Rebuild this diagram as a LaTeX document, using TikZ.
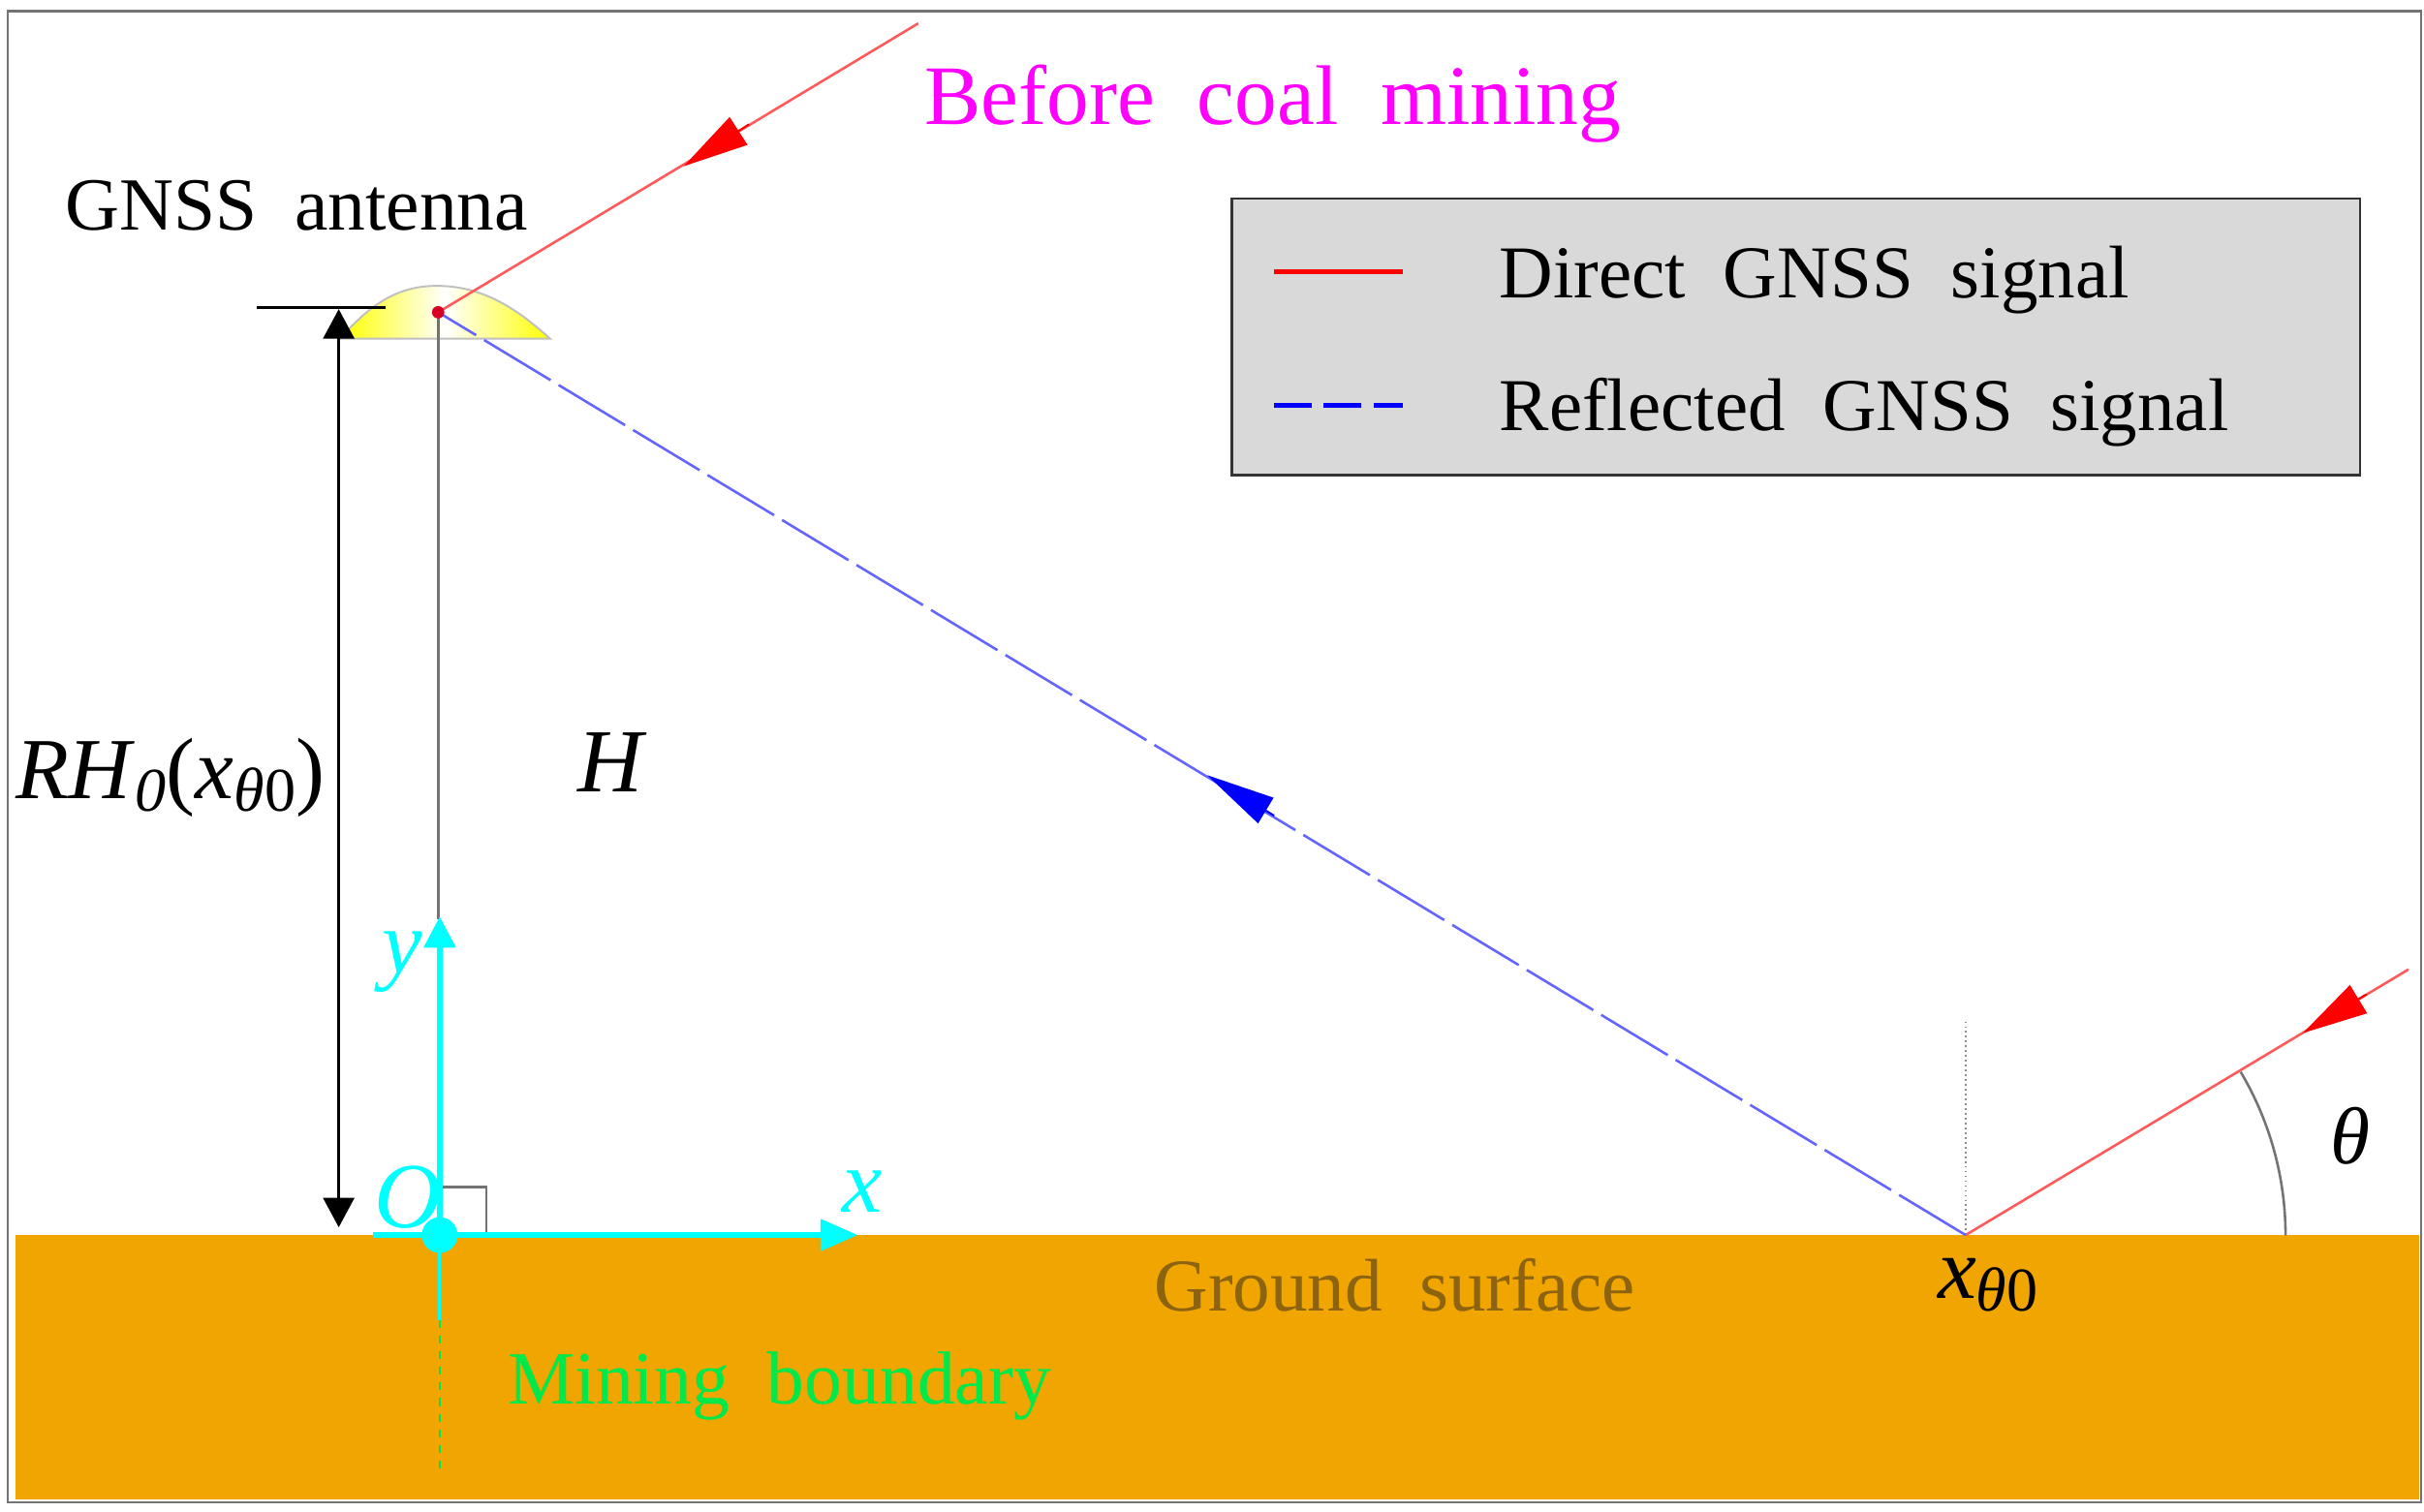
\documentclass[tikz,border=0pt]{standalone}
\usepackage{fontspec}
\setmainfont[WordSpace=2]{Liberation Serif}
\usetikzlibrary{arrows.meta}
\newcommand{\sz}[1]{\fontsize{#1}{#1}\selectfont}
\definecolor{ground}{HTML}{F0A500}
\definecolor{groundtext}{HTML}{8C6410}
\definecolor{minegreen}{HTML}{00E84A}
\definecolor{legendbg}{HTML}{D9D9D9}
\definecolor{purecyan}{RGB}{0,255,255}
\definecolor{puremagenta}{RGB}{255,0,255}
\definecolor{purered}{RGB}{255,0,0}
\definecolor{pureblue}{RGB}{0,0,255}
\definecolor{softred}{RGB}{255,90,90}
\definecolor{softblue}{RGB}{100,100,255}
\definecolor{pureyellow}{RGB}{255,255,0}
\tikzset{
  x=1pt,y=-1pt,
  lbl/.style={anchor=base west,inner sep=0pt,outer sep=0pt},
  direct/.style={draw=softred,line width=1.6pt},
  reflected/.style={draw=softblue,line width=1.6pt,dash pattern=on 50pt off 6pt},
  redhead/.style={draw=purered,-{Triangle[length=42pt,width=21pt,fill=purered,color=purered]},line width=1.2pt},
  bluehead/.style={draw=pureblue,-{Triangle[length=44pt,width=19pt,fill=pureblue,color=pureblue]},line width=1.2pt},
  axis/.style={draw=purecyan,color=purecyan,line width=3.6pt},
  helper/.style={draw=black!55,line width=1.6pt},
}
\begin{document}
\begin{tikzpicture}
\useasboundingbox (0,0) rectangle (1560,972.7);
\fill[white] (0,0) rectangle (1560,972.7);
% frame and ground
\fill[ground] (10,795) rectangle (1557,965);
\draw[black!55,line width=1.6pt] (5,7) rectangle (1558,967);
% points
\coordinate (ant) at (282,201);
\coordinate (refl) at (1265,795);
\coordinate (origin) at (283,795);
\coordinate (skyA) at (591,15);
\coordinate (skyB) at (1550,624);
% antenna
\shade[left color=pureyellow,right color=pureyellow,middle color=white]
  (219,218) .. controls (238,196) and (256,184) .. (281,184) .. controls (308,184) and (330,196) .. (354,218) -- cycle;
\draw[black!25,line width=1.2pt] (219,218) .. controls (238,196) and (256,184) .. (281,184) .. controls (308,184) and (330,196) .. (354,218) -- cycle;
% vertical H
\draw[helper] (ant) -- (282,592);
% right angle
\draw[helper] (283,764) -- (313,764) -- (313,795);
% dotted normal
\draw[black!45,line width=1.1pt,dotted] (refl) -- (1265,657);
% arc
\draw[helper] (1442,690) arc[start angle=-30.7,end angle=0,radius=206];
% signals
\draw[direct] (skyA) -- (ant);
\draw[direct] (skyB) -- (refl);
\draw[reflected] (refl) -- (ant);
\coordinate (ra1) at (482,80); \coordinate (rt1) at (440,107);
\coordinate (ra2) at (1523,640); \coordinate (rt2) at (1482,665);
\coordinate (ba) at (820,525); \coordinate (bt) at (777,499);
\draw[redhead] (ra1) -- (rt1);
\draw[redhead] (ra2) -- (rt2);
\draw[bluehead] (ba) -- (bt);
\fill[purered!85!pureblue] (ant) circle (4);
% dimension
\draw[black,line width=1.6pt] (165,198) -- (248,198);
\coordinate (dimT) at (218,199); \coordinate (dimB) at (218,790);
\draw[black,line width=1.6pt,{Triangle[length=19pt,width=20pt]}-{Triangle[length=19pt,width=20pt]}] (dimT) -- (dimB);
% mining boundary
\draw[minegreen,line width=1.5pt,dash pattern=on 5pt off 5pt] (283,850) -- (283,946);
\draw[purecyan,line width=2pt] (origin) -- (283,850);
% axes
\draw[axis,-{Triangle[length=20pt,width=20pt]}] (origin) -- (283,590);
\draw[axis,-{Triangle[length=24pt,width=20pt]}] (240,795) -- (552,795);
\node[circle,fill=purecyan,inner sep=0pt,minimum size=23pt] (o) at (origin) {};
% legend
\node[draw=black!80,fill=legendbg,line width=1.5pt,minimum width=726pt,minimum height=178pt,inner sep=0pt,anchor=north west] (legend) at (792,127) {};
\coordinate (l1a) at (820,175); \coordinate (l1b) at (903,175);
\coordinate (l2a) at (820,261); \coordinate (l2b) at (903,261);
\draw[purered,line width=3.4pt] (l1a) -- (l1b);
\draw[pureblue,line width=3.4pt,dash pattern=on 24pt off 8pt] (l2a) -- (l2b);
\node[lbl] (t1) at (965,192) {\sz{48}Direct GNSS signal};
\node[lbl] (t2) at (965,277) {\sz{48}Reflected GNSS signal};
% labels
\node[lbl,text=puremagenta] (before) at (595,80) {\sz{54.5}Before coal mining};
\node[lbl] (gnss) at (42,148) {\sz{48.3}GNSS antenna};
\node[lbl] (rh) at (10,514) {\sz{56}\textit{RH}\raisebox{-8pt}{\sz{40}\textit{0}}(\textit{x}\raisebox{-8pt}{\sz{40}\textit{θ}0})};
\node[lbl] (h) at (372,510) {\sz{58}\textit{H}};
\node[lbl,text=purecyan] (yl) at (246,626) {\sz{58}\textit{y}};
\node[lbl,text=purecyan] (ol) at (241,790) {\sz{60}\textit{O}};
\node[lbl,text=purecyan] (xl) at (542,780) {\sz{58}\textit{x}};
\node[lbl,text=groundtext] (gs) at (743,844) {\sz{48}Ground surface};
\node[lbl,text=minegreen] (mb) at (327,904) {\sz{48.4}Mining boundary};
\node[lbl] (xt) at (1247,836) {\sz{56}\textit{x}\raisebox{-8pt}{\sz{40}\textit{θ}0}};
\node[lbl] (th) at (1500,749) {\sz{52}\textit{θ}};
\end{tikzpicture}
\end{document}
